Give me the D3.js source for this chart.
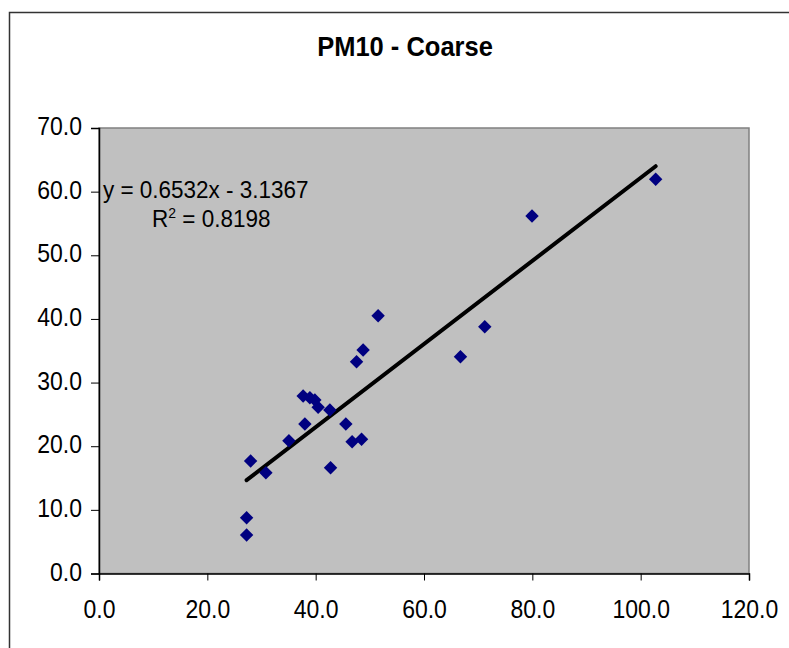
<!DOCTYPE html>
<html>
<head>
<meta charset="utf-8">
<script src="https://cdn.jsdelivr.net/npm/d3@7"></script>
<style>
  html, body { margin: 0; padding: 0; background: #fff; }
  svg { display: block; }
  text { font-family: "Liberation Sans", Arial, sans-serif; }
</style>
</head>
<body>
<svg id="chart" width="789" height="648"></svg>
<script>
const chartTitle = "PM10 - Coarse";
const xValues = [27.25, 27.25, 27.99, 30.81, 35.06, 38.01, 37.69, 38.93, 39.85, 40.46, 42.62,
                 42.75, 45.57, 46.73, 48.47, 47.55, 48.76, 51.53, 66.73, 71.22, 79.94, 102.77];
const yValues = [6.05, 8.77, 17.68, 15.84, 20.87, 23.49, 27.89, 27.62, 27.26, 26.12, 25.69,
                 16.62, 23.49, 20.71, 21.09, 33.28, 35.12, 40.51, 34.07, 38.78, 56.18, 61.94];
const xTicks = [0, 20, 40, 60, 80, 100, 120];
const yTicks = [0, 10, 20, 30, 40, 50, 60, 70];
const trendSlope = 0.6532;
const trendIntercept = -3.1367;
const rSquared = 0.8198;

const svg = d3.select("#chart");
const W = 789, H = 648;
const plot = { left: 99, right: 749, top: 128, bottom: 573.5 };
const FONT = "'Liberation Sans', Arial, sans-serif";

svg.append("rect").attr("width", W).attr("height", H).attr("fill", "#fff");
// outer chart border (extends beyond frame)
svg.append("rect").attr("x", 9.5).attr("y", 12.5).attr("width", W + 20).attr("height", H + 20)
  .attr("fill", "none").attr("stroke", "#333").attr("stroke-width", 1.5);

const x = d3.scaleLinear().domain([0, 120]).range([plot.left, plot.right]);
const y = d3.scaleLinear().domain([0, 70]).range([plot.bottom, plot.top]);

// plot area
svg.append("rect").attr("x", plot.left).attr("y", plot.top)
  .attr("width", plot.right - plot.left).attr("height", plot.bottom - plot.top)
  .attr("fill", "#c0c0c0").attr("stroke", "#808080").attr("stroke-width", 1.5);

// title
svg.append("text").attr("transform", "translate(405,56) scale(1,1.07)")
  .attr("text-anchor", "middle").attr("font-family", FONT)
  .attr("font-size", 25.5).attr("font-weight", "bold").attr("fill", "#000").text(chartTitle);

// axes
const fmt = d3.format(".1f");
const xAxis = svg.append("g").attr("transform", `translate(0,${plot.bottom})`)
  .call(d3.axisBottom(x).tickValues(xTicks).tickFormat(fmt).tickSize(7).tickSizeOuter(7));
xAxis.select(".domain").attr("stroke", "#000").attr("stroke-width", 1.5);
xAxis.selectAll(".tick line").attr("stroke", "#000");
xAxis.selectAll(".tick text").attr("font-size", 23).attr("fill", "#000")
  .attr("font-family", FONT).attr("y", 0).attr("dy", 0)
  .attr("transform", "translate(0,44.5) scale(1,1.1)");

const yAxis = svg.append("g").attr("transform", `translate(${plot.left},0)`)
  .call(d3.axisLeft(y).tickValues(yTicks).tickFormat(fmt).tickSize(8).tickSizeOuter(8));
yAxis.select(".domain").attr("stroke", "#000").attr("stroke-width", 1.5);
yAxis.selectAll(".tick line").attr("stroke", "#000");
yAxis.selectAll(".tick text").attr("font-size", 23).attr("fill", "#000")
  .attr("font-family", FONT).attr("x", 0).attr("y", 0).attr("dy", 0)
  .attr("transform", "translate(-17,6.5) scale(1,1.1)");

// trend line
const xMin = d3.min(xValues), xMax = d3.max(xValues);
const trendPts = [xMin, xMax].map(v => [v, trendSlope * v + trendIntercept]);
svg.append("path").datum(trendPts)
  .attr("d", d3.line().x(d => x(d[0])).y(d => y(d[1])))
  .attr("stroke", "#000").attr("stroke-width", 4).attr("stroke-linecap", "round").attr("fill", "none");

// points
const pts = xValues.map((v, i) => [v, yValues[i]]);
const diamond = d3.symbol().type(d3.symbolDiamond2).size(115);
svg.append("g").selectAll("path").data(pts).join("path")
  .attr("transform", d => `translate(${x(d[0])},${y(d[1])})`)
  .attr("d", diamond).attr("fill", "#000080");

// equation
svg.append("text").attr("transform", "translate(103,198) scale(1,1.05)")
  .attr("font-size", 22.5).attr("fill", "#000")
  .text(`y = ${trendSlope.toFixed(4)}x - ${Math.abs(trendIntercept).toFixed(4)}`);
const r2 = svg.append("text").attr("transform", "translate(152,227) scale(1,1.05)")
  .attr("font-size", 22.5).attr("fill", "#000");
r2.append("tspan").text("R");
r2.append("tspan").attr("font-size", 14).attr("dy", -9).text("2");
r2.append("tspan").attr("dy", 9).text(` = ${rSquared.toFixed(4)}`);
</script>
</body>
</html>
